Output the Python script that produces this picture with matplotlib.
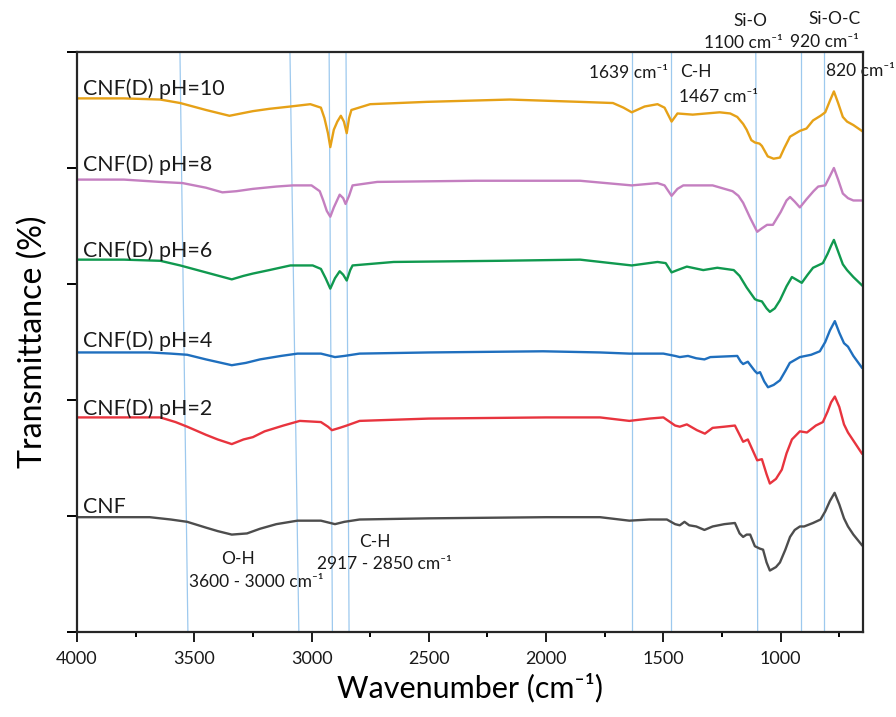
import numpy as np
import matplotlib
matplotlib.use("Agg")
import matplotlib.pyplot as plt
from matplotlib.ticker import MultipleLocator

plt.rcParams["font.family"] = ["Lato", "DejaVu Sans"]

# FTIR spectra, offset vertically (arbitrary transmittance units)
wn_cnf = [4000, 3800, 3690, 3600, 3530, 3450, 3400, 3340, 3275, 3220, 3150, 3060, 2960,
          2920, 2900, 2860, 2795, 2500, 2000, 1770, 1645, 1560, 1485, 1450, 1430, 1410,
          1390, 1360, 1325, 1290, 1240, 1195, 1175, 1160, 1145, 1130, 1110, 1090, 1075,
          1060, 1046, 1020, 1003, 980, 960, 940, 918, 900, 862, 830, 810, 790, 770, 750,
          730, 713, 690, 654]
t_cnf = [0.99, 0.99, 0.99, 0.97, 0.95, 0.90, 0.87, 0.84, 0.85, 0.89, 0.93, 0.96, 0.96,
         0.94, 0.93, 0.95, 0.97, 0.98, 0.99, 0.99, 0.96, 0.97, 0.97, 0.93, 0.92, 0.95,
         0.92, 0.91, 0.88, 0.91, 0.93, 0.94, 0.85, 0.82, 0.84, 0.84, 0.74, 0.72, 0.71,
         0.60, 0.53, 0.56, 0.60, 0.71, 0.82, 0.88, 0.91, 0.91, 0.94, 0.97, 1.04, 1.13,
         1.20, 1.10, 0.98, 0.91, 0.84, 0.75]

wn_ph2 = [4000, 3800, 3645, 3580, 3530, 3450, 3400, 3340, 3290, 3250, 3200, 3120, 3050,
          2960, 2930, 2913, 2880, 2850, 2795, 2500, 2000, 1770, 1645, 1560, 1500, 1450,
          1430, 1400, 1357, 1323, 1290, 1240, 1195, 1175, 1160, 1140, 1120, 1100, 1080,
          1060, 1046, 1020, 995, 975, 952, 918, 888, 850, 820, 800, 785, 769, 750, 730,
          713, 690, 654]
t_ph2 = [1.85, 1.85, 1.85, 1.81, 1.77, 1.70, 1.66, 1.62, 1.66, 1.68, 1.73, 1.78, 1.82,
         1.81, 1.77, 1.74, 1.76, 1.78, 1.82, 1.84, 1.85, 1.85, 1.82, 1.84, 1.85, 1.78,
         1.77, 1.79, 1.74, 1.71, 1.76, 1.77, 1.78, 1.70, 1.64, 1.66, 1.57, 1.48, 1.49,
         1.36, 1.28, 1.32, 1.40, 1.54, 1.66, 1.73, 1.72, 1.78, 1.81, 1.90, 1.98, 2.03,
         1.94, 1.79, 1.72, 1.65, 1.54]

wn_ph4 = [4000, 3800, 3690, 3600, 3530, 3450, 3340, 3280, 3220, 3130, 3060, 2960, 2900,
          2860, 2795, 2500, 2013, 1770, 1645, 1500, 1450, 1430, 1395, 1360, 1325, 1300,
          1185, 1170, 1160, 1140, 1110, 1100, 1088, 1070, 1054, 1030, 1003, 980, 961,
          918, 870, 833, 810, 790, 769, 750, 730, 713, 690, 654]
t_ph4 = [2.41, 2.41, 2.41, 2.40, 2.39, 2.35, 2.30, 2.32, 2.35, 2.38, 2.40, 2.40, 2.37,
         2.38, 2.40, 2.41, 2.42, 2.41, 2.40, 2.40, 2.38, 2.37, 2.38, 2.36, 2.35, 2.37,
         2.38, 2.33, 2.31, 2.33, 2.25, 2.23, 2.24, 2.16, 2.11, 2.13, 2.17, 2.25, 2.32,
         2.37, 2.39, 2.42, 2.50, 2.60, 2.68, 2.58, 2.49, 2.46, 2.38, 2.28]

wn_ph6 = [4000, 3800, 3645, 3560, 3450, 3340, 3290, 3250, 3180, 3090, 2995, 2960, 2940,
          2920, 2900, 2880, 2865, 2850, 2835, 2825, 2650, 2200, 1855, 1635, 1525, 1490,
          1465, 1440, 1400, 1330, 1270, 1200, 1175, 1145, 1110, 1100, 1080, 1060, 1046,
          1025, 1003, 975, 952, 935, 910, 885, 862, 820, 800, 785, 773, 755, 735, 717,
          690, 654]
t_ph6 = [3.21, 3.21, 3.20, 3.16, 3.10, 3.04, 3.07, 3.09, 3.12, 3.16, 3.16, 3.13, 3.05,
         2.96, 3.05, 3.11, 3.08, 3.03, 3.12, 3.16, 3.19, 3.20, 3.21, 3.16, 3.19, 3.18,
         3.10, 3.12, 3.15, 3.12, 3.14, 3.12, 3.07, 2.97, 2.87, 2.86, 2.85, 2.79, 2.76,
         2.79, 2.86, 2.98, 3.06, 3.04, 3.01, 3.08, 3.14, 3.18, 3.26, 3.33, 3.38, 3.28,
         3.17, 3.12, 3.06, 2.99]

wn_ph8 = [4000, 3800, 3645, 3550, 3450, 3380, 3320, 3250, 3150, 3080, 3000, 2965, 2950,
          2935, 2920, 2905, 2880, 2865, 2855, 2840, 2825, 2720, 2300, 1855, 1635, 1525,
          1495, 1465, 1440, 1415, 1290, 1205, 1180, 1160, 1130, 1100, 1080, 1058, 1033,
          1000, 975, 960, 940, 918, 890, 860, 840, 810, 790, 773, 755, 735, 713, 690, 654]
t_ph8 = [3.90, 3.90, 3.88, 3.87, 3.83, 3.79, 3.80, 3.82, 3.84, 3.85, 3.85, 3.80, 3.72,
         3.63, 3.58, 3.66, 3.77, 3.74, 3.69, 3.76, 3.85, 3.88, 3.89, 3.89, 3.85, 3.87,
         3.85, 3.76, 3.82, 3.85, 3.85, 3.80, 3.76, 3.70, 3.57, 3.45, 3.48, 3.51, 3.51,
         3.62, 3.72, 3.75, 3.71, 3.66, 3.73, 3.80, 3.84, 3.85, 3.93, 4.00, 3.90, 3.78,
         3.74, 3.72, 3.72]

wn_ph10 = [4000, 3800, 3645, 3560, 3450, 3350, 3300, 3250, 3180, 3090, 3005, 2960, 2945,
           2930, 2920, 2905, 2890, 2875, 2862, 2850, 2840, 2830, 2750, 2510, 2155, 1855,
           1715, 1670, 1635, 1580, 1525, 1495, 1465, 1440, 1375, 1260, 1215, 1185, 1160,
           1145, 1125, 1110, 1090, 1080, 1055, 1030, 1003, 985, 960, 918, 890, 862, 830,
           810, 790, 773, 755, 735, 717, 690, 654]
t_ph10 = [4.60, 4.60, 4.59, 4.56, 4.50, 4.45, 4.47, 4.49, 4.51, 4.53, 4.55, 4.52, 4.43,
          4.30, 4.18, 4.33, 4.40, 4.45, 4.40, 4.30, 4.43, 4.50, 4.55, 4.57, 4.59, 4.57,
          4.56, 4.52, 4.48, 4.53, 4.55, 4.52, 4.40, 4.47, 4.46, 4.48, 4.47, 4.44, 4.38,
          4.33, 4.24, 4.22, 4.21, 4.19, 4.10, 4.08, 4.09, 4.17, 4.27, 4.32, 4.34, 4.41,
          4.45, 4.48, 4.58, 4.66, 4.56, 4.44, 4.40, 4.37, 4.32]

series = [
    ("CNF", wn_cnf, t_cnf, "#4d4d4d", 1.03),
    ("CNF(D) pH=2", wn_ph2, t_ph2, "#e8343e", 1.87),
    ("CNF(D) pH=4", wn_ph4, t_ph4, "#1f6fbe", 2.46),
    ("CNF(D) pH=6", wn_ph6, t_ph6, "#10994f", 3.23),
    ("CNF(D) pH=8", wn_ph8, t_ph8, "#c47fc0", 3.97),
    ("CNF(D) pH=10", wn_ph10, t_ph10, "#e6a117", 4.63),
]

# marker lines for the assigned bands (top / bottom wavenumber, lines lean slightly)
band_top = [3561, 3092, 2925, 2853, 1633, 1466, 1106, 913, 817]
band_bottom = [3527, 3054, 2911, 2840, 1633, 1466, 1098, 913, 817]

fig = plt.figure(figsize=(8.96, 7.17), dpi=100)
ax = fig.add_axes([0.0859, 0.1185, 0.877, 0.809])

for wt, wb in zip(band_top, band_bottom):
    ax.plot([wb, wt], [0, 5], color="#9dc9ee", lw=0.9, zorder=1)

for name, wn, t, col, ly in series:
    ax.plot(wn, t, color=col, lw=1.7, zorder=3, solid_joinstyle="round")
    ax.text(3975, ly, name, fontsize=15.4, color="#1a1a1a", ha="left", va="baseline")

ax.set_xlim(4000, 650)
ax.set_ylim(0, 5)
ax.xaxis.set_major_locator(MultipleLocator(500))
ax.xaxis.set_minor_locator(MultipleLocator(250))
ax.set_yticks([0, 1, 2, 3, 4, 5])
ax.set_yticklabels([])
ax.tick_params(axis="x", which="major", direction="out", length=7, width=1.4,
               labelsize=13, pad=7, colors="#1a1a1a")
ax.tick_params(axis="x", which="minor", direction="out", length=3.5, width=1.4)
ax.tick_params(axis="y", direction="out", length=7, width=1.4)
for s in ax.spines.values():
    s.set_linewidth(1.6)
    s.set_color("#262626")
    s.set_zorder(5)

ax.set_xlabel("Wavenumber (cm⁻¹)", fontsize=22, labelpad=4)
ax.set_ylabel("Transmittance (%)", fontsize=23, labelpad=10)

kw = dict(fontsize=12.5, color="#1a1a1a", ha="center", va="center", clip_on=False)
ax.text(3315, 0.63, "O-H", **kw)
ax.text(3235, 0.43, "3600 - 3000 cm⁻¹", **kw)
ax.text(2730, 0.78, "C-H", **kw)
ax.text(2690, 0.59, "2917 - 2850 cm⁻¹", **kw)
ax.text(1650, 4.82, "1639 cm⁻¹", **kw)
ax.text(1360, 4.83, "C-H", **kw)
ax.text(1265, 4.61, "1467 cm⁻¹", **kw)
ax.text(1130, 5.27, "Si-O", **kw)
ax.text(1160, 5.08, "1100 cm⁻¹", **kw)
ax.text(770, 5.28, "Si-O-C", **kw)
ax.text(812, 5.09, "920 cm⁻¹", **kw)
ax.text(660, 4.84, "820 cm⁻¹", zorder=2, **kw)

fig.savefig("out.png", dpi=100)
